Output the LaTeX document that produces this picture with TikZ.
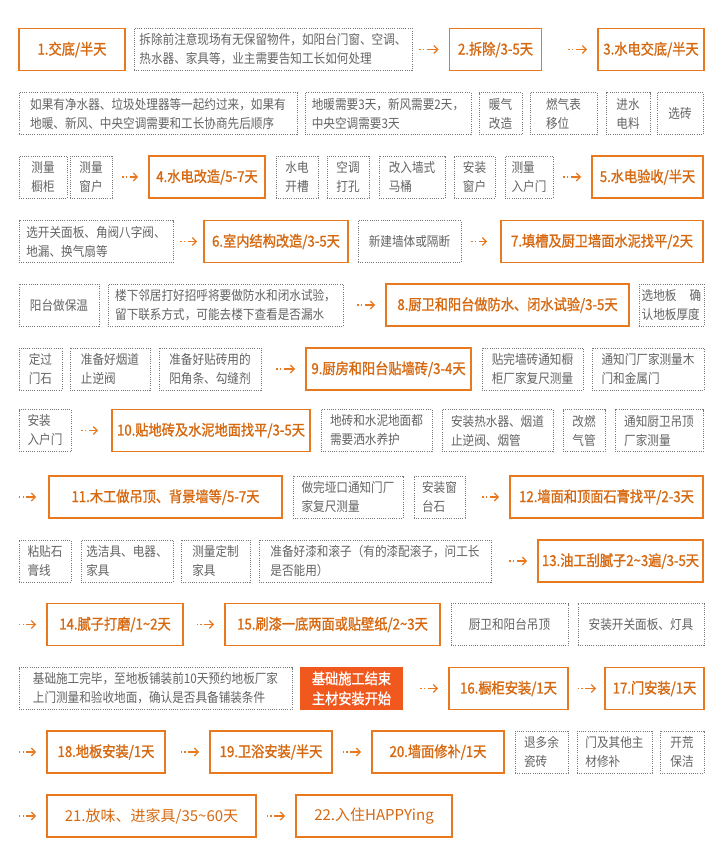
\documentclass[tikz,border=0pt]{standalone}
\usepackage{fontspec}
\setmainfont{Noto Sans CJK SC}[FakeStretch=0.88]
\newfontfamily\stagefont{Noto Sans CJK SC}[FakeStretch=0.88,FakeBold=1.2]
\newfontfamily\widestagefont{Noto Sans CJK SC}
\usetikzlibrary{arrows.meta}
\definecolor{stageorange}{RGB}{232,121,30}
\definecolor{stagetext}{RGB}{214,104,16}
\definecolor{basered}{RGB}{240,88,30}
\definecolor{notegray}{RGB}{100,100,100}
\definecolor{noteline}{RGB}{120,120,120}
\newcommand{\tld}{\textasciitilde}

\begin{document}
\begin{tikzpicture}[x=1pt,y=-1pt,
  stage/.style={draw=stageorange,line width=1.6pt,text=stagetext,minimum height=42pt,inner sep=2pt,align=center,font=\stagefont\fontsize{15}{20}\selectfont},
  laststage/.style={stage,font=\widestagefont\fontsize{15}{20}\selectfont},
  note/.style={draw=noteline,line width=0.9pt,dash pattern=on 1pt off 1.2pt,text=notegray,minimum height=42pt,inner sep=2pt,align=left,font=\fontsize{13.2}{19}\selectfont},
  milestone/.style={fill=basered,text=white,minimum height=43pt,inner sep=2pt,align=center,font=\stagefont\fontsize{15}{20}\selectfont},
  flow/.style={draw=stageorange,line width=1.3pt,dash pattern=on 1.3pt off 2.2pt on 1.3pt off 2.6pt on 40pt off 1pt,-{Straight Barb[length=4pt,width=8pt]},shorten <=10pt,shorten >=10pt}]
\fill[white] (0,0) rectangle (720,859);
\useasboundingbox (0,0) rectangle (720,859);

\node[stage,minimum width=106pt] (s1) at (72,49.5) {1.交底/半天};
\node[note,minimum width=278pt] (n1) at (273,49.5) {拆除前注意现场有无保留物件，如阳台门窗、空调、\\热水器、家具等，业主需要告知工长如何处理};
\node[stage,minimum width=92pt] (s2) at (495.5,49.5) {2.拆除/3-5天};
\node[stage,minimum width=106pt] (s3) at (651,49.5) {3.水电交底/半天};

\node[note,minimum width=278pt] (n2a) at (158,113.5) {如果有净水器、垃圾处理器等一起约过来，如果有\\地暖、新风、中央空调需要和工长协商先后顺序};
\node[note,minimum width=166pt] (n2b) at (388,113.5) {地暖需要3天，新风需要2天，\\中央空调需要3天};
\node[note,minimum width=43pt] (n2c) at (500.5,113.5) {暖气\\改造};
\node[note,minimum width=67pt] (n2d) at (563.5,113.5) {燃气表\\移位};
\node[note,minimum width=44pt] (n2e) at (628,113.5) {进水\\电料};
\node[note,minimum width=46pt] (n2f) at (680,113.5) {选砖};

\node[note,minimum width=48pt] (n3a) at (43,177) {测量\\橱柜};
\node[note,minimum width=42pt] (n3b) at (91,177) {测量\\窗户};
\node[stage,minimum width=116pt] (s4) at (207,177) {4.水电改造/5-7天};
\node[note,minimum width=42pt] (n3c) at (297,177) {水电\\开槽};
\node[note,minimum width=42pt] (n3d) at (348,177) {空调\\打孔};
\node[note,minimum width=66pt] (n3e) at (412,177) {改入墙式\\马桶};
\node[note,minimum width=41pt] (n3f) at (474.5,177) {安装\\窗户};
\node[note,minimum width=48pt] (n3g) at (529,177) {测量\\入户门};
\node[stage,minimum width=111pt] (s5) at (647.5,177) {5.水电验收/半天};

\node[note,minimum width=154pt] (n4a) at (96,241.5) {选开关面板、角阀八字阀、\\地漏、换气扇等};
\node[stage,minimum width=144pt] (s6) at (276,241.5) {6.室内结构改造/3-5天};
\node[note,minimum width=103pt] (n4b) at (409.5,241.5) {新建墙体或隔断};
\node[stage,minimum width=202pt] (s7) at (602,241.5) {7.填槽及厨卫墙面水泥找平/2天};

\node[note,minimum width=80pt] (n5a) at (59,305) {阳台做保温};
\node[note,minimum width=235pt] (n5b) at (225.5,305) {楼下邻居打好招呼将要做防水和闭水试验，\\留下联系方式，可能去楼下查看是否漏水};
\node[stage,minimum width=243pt] (s8) at (507.5,305) {8.厨卫和阳台做防水、闭水试验/3-5天};
\node[note,minimum width=65pt] (n5c) at (671.5,305) {选地板\hspace{1em}确\\认地板厚度};

\node[note,minimum width=43pt] (n6a) at (40.5,369) {定过\\门石};
\node[note,minimum width=80pt] (n6b) at (110,369) {准备好烟道\\止逆阀};
\node[note,minimum width=102pt] (n6c) at (210,369) {准备好贴砖用的\\阳角条、勾缝剂};
\node[stage,minimum width=165pt] (s9) at (388.5,369) {9.厨房和阳台贴墙砖/3-4天};
\node[note,minimum width=101pt] (n6d) at (532.5,369) {贴完墙砖通知橱\\柜厂家复尺测量};
\node[note,minimum width=112pt] (n6e) at (648,369) {通知门厂家测量木\\门和金属门};

\node[note,minimum width=52pt] (n7a) at (45,430.5) {安装\\入户门};
\node[stage,minimum width=198pt] (s10) at (211,430.5) {10.贴地砖及水泥地面找平/3-5天};
\node[note,minimum width=111pt] (n7b) at (376.5,430.5) {地砖和水泥地面都\\需要洒水养护};
\node[note,minimum width=111pt] (n7c) at (497.5,430.5) {安装热水器、烟道\\止逆阀、烟管};
\node[note,minimum width=42pt] (n7d) at (584,430.5) {改燃\\气管};
\node[note,minimum width=88pt] (n7e) at (659,430.5) {通知厨卫吊顶\\厂家测量};

\coordinate (r8) at (9,497);
\node[stage,minimum width=233pt] (s11) at (165.5,497) {11.木工做吊顶、背景墙等/5-7天};
\node[note,minimum width=110pt] (n8a) at (348,497) {做完垭口通知门厂\\家复尺测量};
\node[note,minimum width=51pt] (n8b) at (439.5,497) {安装窗\\台石};
\node[stage,minimum width=193pt] (s12) at (606.5,497) {12.墙面和顶面石膏找平/2-3天};

\node[note,minimum width=52pt] (n9a) at (45,561) {粘贴石\\膏线};
\node[note,minimum width=92pt] (n9b) at (127,561) {选洁具、电器、\\家具};
\node[note,minimum width=69pt] (n9c) at (215.5,561) {测量定制\\家具};
\node[note,minimum width=232pt] (n9d) at (375,561) {准备好漆和滚子（有的漆配滚子，问工长\\是否能用）};
\node[stage,minimum width=165pt] (s13) at (620.5,561) {13.油工刮腻子2\tld 3遍/3-5天};

\coordinate (r10) at (9,624.5);
\node[stage,minimum width=136pt] (s14) at (115,624.5) {14.腻子打磨/1\tld 2天};
\node[stage,minimum width=215pt] (s15) at (332.5,624.5) {15.刷漆一底两面或贴壁纸/2\tld 3天};
\node[note,minimum width=117pt] (n10a) at (509.5,624.5) {厨卫和阳台吊顶};
\node[note,minimum width=126pt] (n10b) at (641,624.5) {安装开关面板、灯具};

\node[note,minimum width=273pt] (n11a) at (155.5,688.5) {基础施工完毕，至地板铺装前10天预约地板厂家\\上门测量和验收地面，确认是否具备铺装条件};
\node[milestone,minimum width=103pt] (m1) at (351.5,688.5) {基础施工结束\\主材安装开始};
\node[stage,minimum width=119pt] (s16) at (508.5,688.5) {16.橱柜安装/1天};
\node[stage,minimum width=99pt] (s17) at (654.5,688.5) {17.门安装/1天};

\coordinate (r12) at (9,752);
\node[stage,minimum width=118pt] (s18) at (106,752) {18.地板安装/1天};
\node[stage,minimum width=122pt] (s19) at (271,752) {19.卫浴安装/半天};
\node[stage,minimum width=132pt] (s20) at (438,752) {20.墙面修补/1天};
\node[note,minimum width=53pt] (n12a) at (541.5,752) {退多余\\瓷砖};
\node[note,minimum width=75pt] (n12b) at (614.5,752) {门及其他主\\材修补};
\node[note,minimum width=44pt] (n12c) at (682,752) {开荒\\保洁};

\coordinate (r13) at (9,816);
\node[laststage,minimum width=209pt] (s21) at (151.5,816) {21.放味、进家具/35\tld 60天};
\node[laststage,minimum width=156pt] (s22) at (374,816) {22.入住HAPPYing};

\draw[flow,shorten <=7pt] (n1) -- (s2);
\draw[flow,shorten <=26pt] (s2) -- (s3);
\draw[flow] (n3b) -- (s4);
\draw[flow] (n3g) -- (s5);
\draw[flow,shorten <=7pt,shorten >=6pt] (n4a) -- (s6);
\draw[flow,shorten >=13pt] (n4b) -- (s7);
\draw[flow,shorten <=14pt] (n5b) -- (s8);
\draw[flow,shorten <=15pt] (n6c) -- (s9);
\draw[flow,shorten >=13pt] (n7a) -- (s10);
\draw[flow,shorten >=12pt] (r8) -- (s11);
\draw[flow,shorten <=17pt] (n8b) -- (s12);
\draw[flow,shorten <=18pt] (n9d) -- (s13);
\draw[flow] (r10) -- (s14);
\draw[flow,shorten <=13pt] (s14) -- (s15);
\draw[flow,shorten <=17pt] (m1) -- (s16);
\draw[flow,shorten <=9pt,shorten >=8pt] (s16) -- (s17);
\draw[flow] (r12) -- (s18);
\draw[flow,shorten <=15pt] (s18) -- (s19);
\draw[flow] (s19) -- (s20);
\draw[flow] (r13) -- (s21);
\draw[flow] (s21) -- (s22);
\end{tikzpicture}
\end{document}
